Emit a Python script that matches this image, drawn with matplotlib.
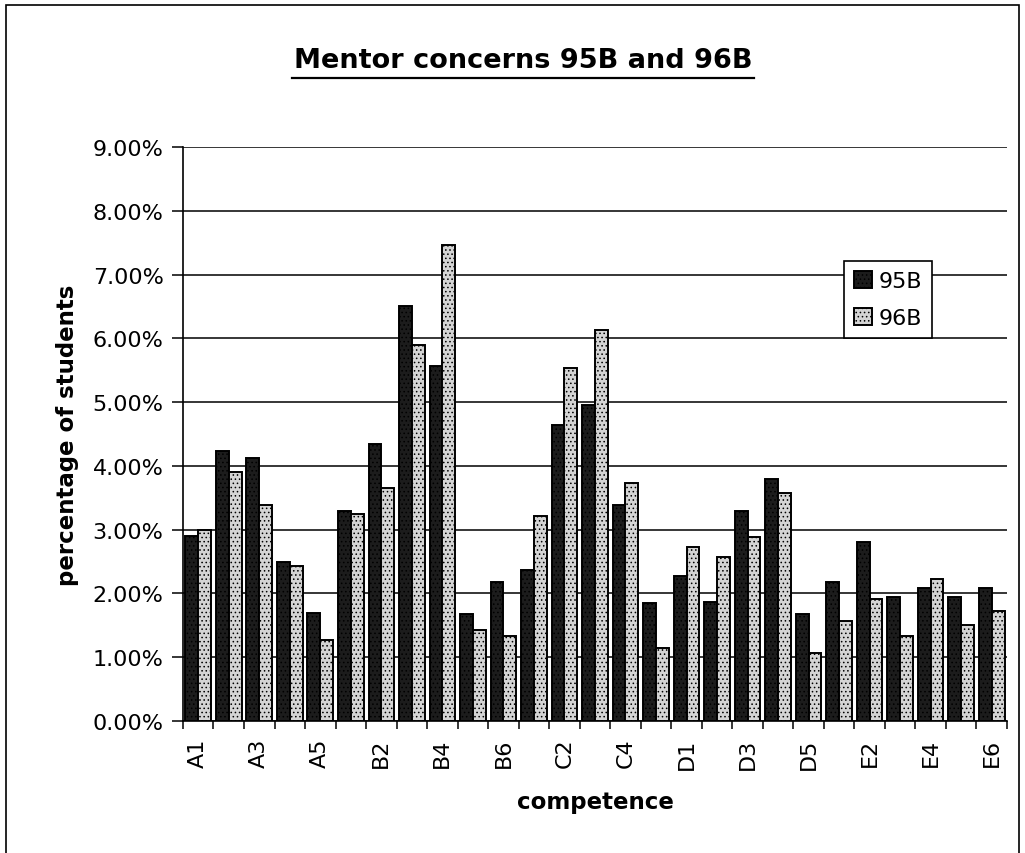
import matplotlib
matplotlib.use('Agg')
import matplotlib.pyplot as plt
import numpy as np
from matplotlib.patches import Rectangle

plt.rcParams['font.family'] = ['DejaVu Sans']
plt.rcParams['hatch.color'] = '#8a8a8a'
plt.rcParams['hatch.linewidth'] = 0.6

# ── Data ──────────────────────────────────────────────────────────────────
competences = ['A1', 'A2', 'A3', 'A4', 'A5',
               'B1', 'B2', 'B3', 'B4', 'B5', 'B6',
               'C1', 'C2', 'C3', 'C4', 'C5',
               'D1', 'D2', 'D3', 'D4', 'D5',
               'E1', 'E2', 'E3', 'E4', 'E5', 'E6']
pct_95b = [2.90, 4.24, 4.12, 2.50, 1.69,
           3.29, 4.34, 6.50, 5.56, 1.68, 2.18,
           2.36, 4.64, 4.95, 3.38, 1.85,
           2.27, 1.87, 3.29, 3.79, 1.68,
           2.18, 2.80, 1.95, 2.08, 1.95, 2.08]
pct_96b = [2.99, 3.90, 3.38, 2.43, 1.27,
           3.24, 3.66, 5.90, 7.47, 1.42, 1.34,
           3.22, 5.54, 6.13, 3.73, 1.15,
           2.73, 2.57, 2.89, 3.57, 1.07,
           1.57, 1.92, 1.34, 2.23, 1.50, 1.73]
series_names = ['95B', '96B']

# ── Figure ────────────────────────────────────────────────────────────────
fig = plt.figure(figsize=(10.25, 8.54), dpi=100, facecolor='white')
ax = fig.add_axes([0.1785, 0.1546, 0.8039, 0.6721])

x = np.arange(len(competences))
w = 0.42
ax.bar(x - w / 2, pct_95b, w, color='#1c1c1c', edgecolor='black',
       linewidth=1.4, hatch='....', label=series_names[0], zorder=3)
ax.bar(x + w / 2, pct_96b, w, color='#d4d4d4', edgecolor='black',
       linewidth=1.4, hatch='....', label=series_names[1], zorder=3)

ax.set_ylim(0, 9)
ax.set_xlim(-0.5, len(competences) - 0.5)
ax.set_yticks(np.arange(0, 10, 1))
ax.set_yticklabels([f'{v:.2f}%' for v in range(10)], fontsize=16)
ax.yaxis.grid(True, color='black', linewidth=1.1, zorder=0)
ax.tick_params(axis='y', length=8, width=1.1, pad=6)

# ticks between groups, labels on every other group
ax.set_xticks(np.arange(-0.5, len(competences), 1))
ax.set_xticklabels([])
ax.tick_params(axis='x', which='major', length=6, width=1.1)
ax.set_xticks(x[::2], minor=True)
ax.set_xticklabels(competences[::2], minor=True, rotation=90, fontsize=16)
ax.tick_params(axis='x', which='minor', length=0, pad=12)

for s in ['top', 'right']:
    ax.spines[s].set_visible(False)
for s in ['left', 'bottom']:
    ax.spines[s].set_linewidth(1.2)

ax.set_ylabel('percentage of students', fontsize=16.5, fontweight='bold', labelpad=10)
ax.set_xlabel('competence', fontsize=16.5, fontweight='bold', labelpad=15)

leg = ax.legend(loc='upper left', bbox_to_anchor=(0.802, 0.801), fontsize=16,
                frameon=True, fancybox=False, edgecolor='black',
                handlelength=0.8, handleheight=0.8, handletextpad=0.3,
                borderpad=0.45, labelspacing=0.75, borderaxespad=0)
leg.get_frame().set_linewidth(1.2)
leg.get_frame().set_alpha(1)

fig.text(0.510, 0.928, 'Mentor concerns 95B and 96B', ha='center', va='center',
         fontsize=19.5, fontweight='bold')
fig.add_artist(plt.Line2D([0.285, 0.736], [0.907, 0.907], color='black',
                          linewidth=1.6, transform=fig.transFigure))

# outer chart frame
fig.add_artist(Rectangle((0.006, -0.05), 0.988, 1.043, transform=fig.transFigure,
                         fill=False, edgecolor='black', linewidth=1.2))

fig.savefig('out.png', dpi=100, facecolor='white')
plt.close()
